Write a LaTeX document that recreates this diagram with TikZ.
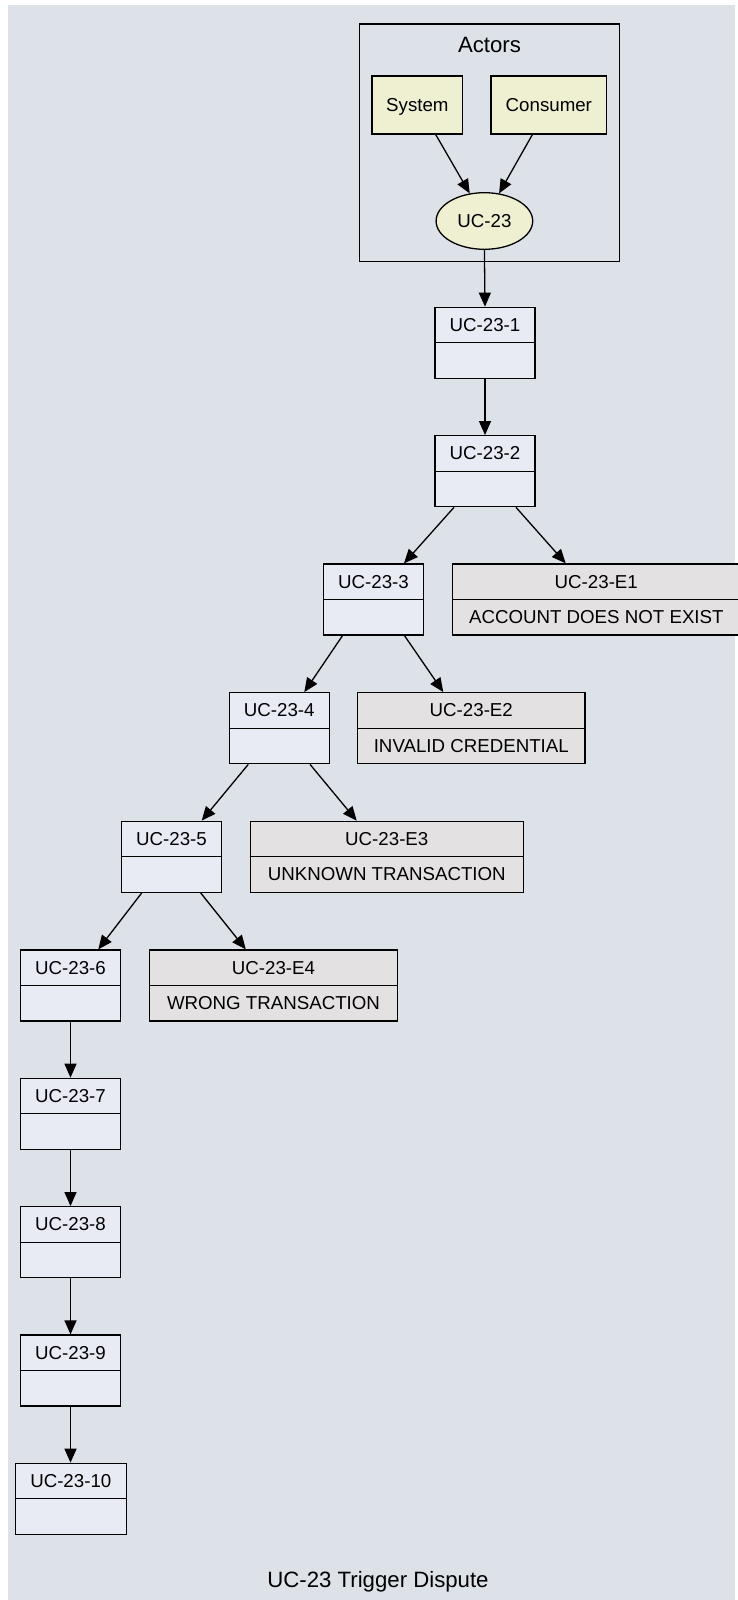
\documentclass[tikz,border=0pt]{standalone}
\usepackage{fontspec}
\setmainfont{Liberation Sans}
\usetikzlibrary{arrows.meta,shapes.geometric}
\definecolor{bgcol}{HTML}{DDE1E8}
\definecolor{stepfill}{HTML}{E8EBF4}
\definecolor{errfill}{HTML}{E3E1E1}
\definecolor{actfill}{HTML}{EFEFD2}
\newcommand\ucstep[5]{%
  \node[stepbox, minimum width=#4pt] (#1) at (#2,#3+35.5) {};
  \draw[divline] (#1.west) -- (#1.east);
  \node[lbl] (#1-l) at (#2,#3+24) {#5};
}
\newcommand\ucerr[6]{%
  \node[errbox, minimum width=#4pt] (#1) at (#2,#3+35.5) {};
  \draw[divline] (#1.west) -- (#1.east);
  \node[lbl] (#1-l) at (#2,#3+24) {#5};
  \node[lbl] (#1-s) at (#2,#3+59.5) {#6};
}
\begin{document}
\begin{tikzpicture}[x=1pt,y=-1pt,
  stepbox/.style={rectangle, draw=black, line width=1.3pt, fill=stepfill, minimum height=71pt, inner sep=0pt},
  errbox/.style={rectangle, draw=black, line width=1.3pt, fill=errfill, minimum height=71pt, inner sep=0pt},
  actbox/.style={rectangle, draw=black, line width=1.3pt, fill=actfill, inner sep=0pt},
  divline/.style={line width=1.3pt},
  lbl/.style={anchor=base, inner sep=0pt, font=\fontsize{18.7}{22}\selectfont},
  biglbl/.style={anchor=base, inner sep=0pt, font=\fontsize{22.2}{26}\selectfont},
  arr/.style={line width=1.3pt, -{Triangle[length=14pt,width=12pt]}}]
\useasboundingbox (0,0) rectangle (737,1600);
\fill[white] (0,0) rectangle (737,1600);
\fill[bgcol] (8,5) rectangle (735,1600);
% cluster
\node[draw=black, line width=1.3pt, rectangle, minimum width=260pt, minimum height=237.7pt, inner sep=0pt] (cluster) at (489.3,142.85) {};
\node[biglbl] (actors) at (489.5,52.5) {Actors};
\node[actbox, minimum width=90.7pt, minimum height=58pt] (sys) at (417.35,105) {};
\node[lbl] (sys-l) at (417.35,111.7) {System};
\node[actbox, minimum width=115.7pt, minimum height=58pt] (cons) at (548.85,105) {};
\node[lbl] (cons-l) at (548.85,111.7) {Consumer};
\node[ellipse, draw=black, line width=1.3pt, fill=actfill, minimum width=96.6pt, minimum height=56.6pt, inner sep=0pt] (uc) at (484.4,221) {};
\node[lbl] (uc-l) at (484.4,227.3) {UC-23};
% steps
\ucstep{s1}{485}{307.3}{100}{UC-23-1}
\ucstep{s2}{485}{435.7}{100}{UC-23-2}
\ucstep{s3}{373.5}{564}{100}{UC-23-3}
\ucerr{e1}{596.3}{564}{287.3}{UC-23-E1}{ACCOUNT DOES NOT EXIST}
\ucstep{s4}{279.3}{692.7}{100}{UC-23-4}
\ucerr{e2}{471.3}{692.7}{227.3}{UC-23-E2}{INVALID CREDENTIAL}
\ucstep{s5}{171.5}{821.3}{100}{UC-23-5}
\ucerr{e3}{386.8}{821.3}{273}{UC-23-E3}{UNKNOWN TRANSACTION}
\ucstep{s6}{70.5}{950}{100}{UC-23-6}
\ucerr{e4}{273.5}{950}{248.2}{UC-23-E4}{WRONG TRANSACTION}
\ucstep{s7}{70.5}{1078.3}{100}{UC-23-7}
\ucstep{s8}{70.5}{1206.7}{100}{UC-23-8}
\ucstep{s9}{70.5}{1335}{100}{UC-23-9}
\ucstep{s10}{70.8}{1463.3}{111}{UC-23-10}
% title
\node[biglbl] (title) at (378,1587) {UC-23 Trigger Dispute};
% edges
\draw[arr] ([xshift=18.4pt]sys.south) -- (uc.118);
\draw[arr] ([xshift=-16.5pt]cons.south) -- (uc.62);
\draw[arr] (uc.south) -- (s1.north);
\draw[arr] (s1.south) -- (s2.north);
\draw[arr] ([xshift=-31pt]s2.south) -- ([xshift=-81pt]s2.south |- s3.north);
\draw[arr] ([xshift=31pt]s2.south) -- ([xshift=-30.6pt]e1.north);
\draw[arr] ([xshift=-31pt]s3.south) -- ([xshift=25pt]s4.north);
\draw[arr] ([xshift=31pt]s3.south) -- ([xshift=-28pt]e2.north);
\draw[arr] ([xshift=-31pt]s4.south) -- ([xshift=30.2pt]s5.north);
\draw[arr] ([xshift=30.7pt]s4.south) -- ([xshift=-30.1pt]e3.north);
\draw[arr] ([xshift=-29.8pt]s5.south) -- ([xshift=27.8pt]s6.north);
\draw[arr] ([xshift=29.2pt]s5.south) -- ([xshift=-27.7pt]e4.north);
\draw[arr] (s6.south) -- (s7.north);
\draw[arr] (s7.south) -- (s8.north);
\draw[arr] (s8.south) -- (s9.north);
\draw[arr] (s9.south) -- (s9.south |- s10.north);
\end{tikzpicture}
\end{document}
